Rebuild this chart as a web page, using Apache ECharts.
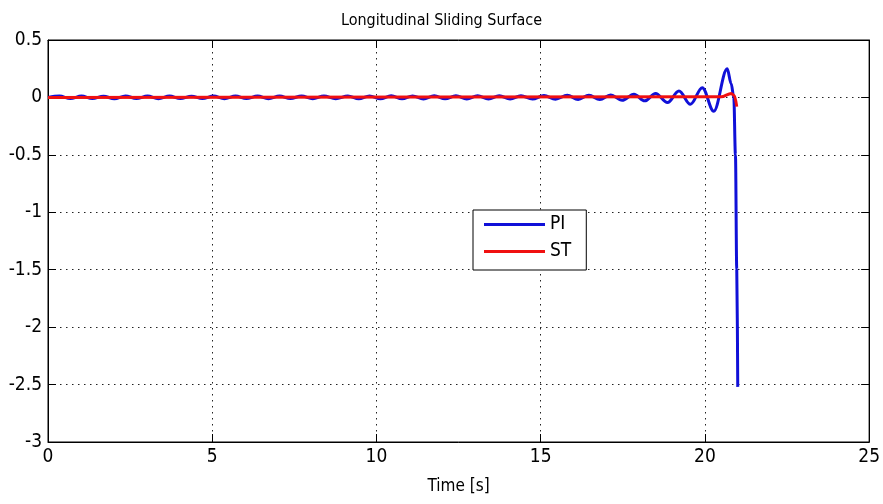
<!DOCTYPE html>
<html>
<head>
<meta charset="utf-8">
<script src="https://cdn.jsdelivr.net/npm/echarts@6/dist/echarts.min.js"></script>
<style>
  html, body { margin: 0; padding: 0; background: #fff; }
  #chart { width: 883px; height: 504px; }
</style>
</head>
<body>
<div id="chart"></div>
<script>
// Sliding surface of the longitudinal controller: PI vs super-twisting (ST)
const piTime = [
  0.00, 0.35, 0.68, 1.02, 1.35, 1.69, 2.02, 2.36, 2.69, 3.03,
  3.36, 3.70, 4.03, 4.37, 4.70, 5.04, 5.37, 5.71, 6.04, 6.38,
  6.71, 7.05, 7.38, 7.72, 8.06, 8.40, 8.76, 9.13, 9.46, 9.79,
  10.12, 10.45, 10.78, 11.10, 11.43, 11.76, 12.09, 12.42, 12.75, 13.08,
  13.41, 13.74, 14.07, 14.40, 14.75, 15.10, 15.45, 15.81, 16.14, 16.47,
  16.80, 17.13, 17.48, 17.84, 18.17, 18.50, 18.86, 19.21, 19.56, 19.92,
  20.27, 20.68, 20.80, 20.88, 20.93, 20.97, 21.00
];
const piValue = [
  0, 0.012, -0.010, 0.012, -0.010, 0.011, -0.012, 0.013, -0.010, 0.012,
  -0.011, 0.012, -0.010, 0.011, -0.010, 0.012, -0.011, 0.012, -0.010, 0.012,
  -0.011, 0.012, -0.010, 0.013, -0.011, 0.012, -0.011, 0.013, -0.012, 0.013,
  -0.012, 0.014, -0.012, 0.013, -0.013, 0.014, -0.012, 0.014, -0.013, 0.014,
  -0.013, 0.015, -0.014, 0.015, -0.014, 0.016, -0.015, 0.018, -0.017, 0.019,
  -0.019, 0.022, -0.025, 0.028, -0.030, 0.035, -0.045, 0.055, -0.060, 0.085,
  -0.120, 0.250, 0.120, 0.000, -0.500, -1.500, -2.520
];
const stTime = [0.00, 20.50, 20.80, 20.90, 20.97];
const stValue = [0.000, 0.005, 0.035, 0.015, -0.080];

const xTicks = [0, 5, 10, 15, 20, 25];
const yTicks = [0.5, 0, -0.5, -1, -1.5, -2, -2.5, -3];

const FONT = "'Liberation Sans Narrow', 'DejaVu Sans Condensed', 'Liberation Sans', Arial, sans-serif";

const zip = (t, v) => t.map((x, i) => [x, v[i]]);

const chart = echarts.init(document.getElementById('chart'), null, { renderer: 'canvas' });

const dotted = { color: '#222', width: 1, type: [1.5, 4.5] };
const boxLine = { show: true, onZero: false, lineStyle: { color: '#000', width: 1 } };
const inTick = { show: true, inside: true, length: 8, lineStyle: { color: '#000' } };

chart.setOption({
  animation: false,
  backgroundColor: '#fff',
  title: {
    text: 'Longitudinal Sliding Surface',
    left: 'center',
    top: 8,
    textStyle: { fontFamily: FONT, fontSize: 16, fontWeight: 'normal', color: '#000' }
  },
  grid: {
    left: 48, right: 13, top: 40, bottom: 62,
    show: true, borderColor: '#000', borderWidth: 1, backgroundColor: '#fff'
  },
  legend: {
    orient: 'vertical',
    left: 473, top: 210,
    backgroundColor: '#fff',
    borderColor: '#000', borderWidth: 1,
    padding: [5, 15, 9, 11],
    itemWidth: 61, itemHeight: 3, itemGap: 8,
    icon: 'rect',
    textStyle: { fontFamily: FONT, fontSize: 19, color: '#000' },
    data: ['PI', 'ST']
  },
  xAxis: [{
    type: 'value', min: xTicks[0], max: xTicks[xTicks.length - 1], interval: 5,
    name: 'Time [s]', nameLocation: 'middle', nameGap: 36,
    nameTextStyle: { fontFamily: FONT, fontSize: 17, color: '#000' },
    axisLine: boxLine,
    axisTick: inTick,
    axisLabel: { fontFamily: FONT, fontSize: 19, color: '#000', margin: 6 },
    splitLine: { show: true, lineStyle: dotted }
  }, {
    type: 'value', position: 'top', min: xTicks[0], max: xTicks[xTicks.length - 1], interval: 5,
    axisLine: boxLine,
    axisTick: inTick,
    axisLabel: { show: false },
    splitLine: { show: false }
  }],
  yAxis: [{
    type: 'value', min: yTicks[yTicks.length - 1], max: yTicks[0], interval: 0.5,
    axisLine: boxLine,
    axisTick: inTick,
    axisLabel: { fontFamily: FONT, fontSize: 19, color: '#000', margin: 6 },
    splitLine: { show: true, lineStyle: dotted }
  }, {
    type: 'value', position: 'right', min: yTicks[yTicks.length - 1], max: yTicks[0], interval: 0.5,
    axisLine: boxLine,
    axisTick: inTick,
    axisLabel: { show: false },
    splitLine: { show: false }
  }],
  series: [{
    name: 'PI',
    type: 'line',
    data: zip(piTime, piValue),
    showSymbol: false, symbol: 'none',
    smooth: 0.35, smoothMonotone: 'x',
    itemStyle: { color: '#1010d8' },
    lineStyle: { color: '#1010d8', width: 3 },
    z: 3
  }, {
    name: 'ST',
    type: 'line',
    data: zip(stTime, stValue),
    showSymbol: false, symbol: 'none',
    smooth: 0.3, smoothMonotone: 'x',
    itemStyle: { color: '#f01010' },
    lineStyle: { color: '#f01010', width: 3 },
    z: 4
  }]
});
</script>
</body>
</html>
